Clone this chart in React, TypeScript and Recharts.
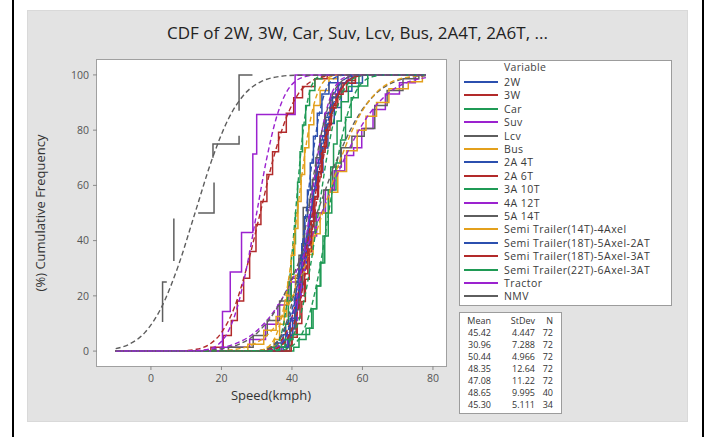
import React from 'react';
import { LineChart, Line, XAxis, YAxis } from 'recharts';

// ---------- data ----------
const variables = [
  '2W', '3W', 'Car', 'Suv', 'Lcv', 'Bus', '2A 4T', '2A 6T', '3A 10T', '4A 12T', '5A 14T',
  'Semi Trailer(14T)-4Axel', 'Semi Trailer(18T)-5Axel-2AT', 'Semi Trailer(18T)-5Axel-3AT',
  'Semi Trailer(22T)-6Axel-3AT', 'Tractor', 'NMV',
];

const statMean = ['45.42', '30.96', '50.44', '48.35', '47.08', '48.65', '45.30'];
const statStDev = ['4.447', '7.288', '4.966', '12.64', '11.22', '9.995', '5.111'];
const statN = ['72', '72', '72', '72', '72', '40', '34'];

const xTicks = [0, 20, 40, 60, 80];
const yTicks = [0, 20, 40, 60, 80, 100];

// empirical (step) CDFs: [speed, cumulative %]
const step2W = [[-10,0],[36.5,1.4],[38.2,4.2],[39.6,8.3],[40.8,15.3],[41.9,22.2],[43.0,31.9],[44.1,40.3],[45.0,48.6],[45.9,58.3],[47.0,68.1],[48.2,76.4],[49.5,84.7],[51.0,91.7],[53.2,97.2],[56.0,100],[78,100]];
const step3W = [[-10,0],[17.0,1.4],[20.5,5.6],[22.8,11.1],[24.5,18.1],[26.3,26.4],[28.0,36.1],[29.8,45.8],[31.2,54.2],[32.9,63.9],[34.5,72.2],[36.2,79.2],[38.4,86.1],[40.5,91.7],[43.0,95.8],[46.5,98.6],[50.0,100],[78,100]];
const stepCar = [[-10,0],[40.5,1.4],[42.0,4.2],[44.0,8.3],[45.6,15.3],[47.0,23.6],[48.2,31.9],[49.3,41.7],[50.3,50.0],[51.3,58.3],[52.5,68.1],[53.8,76.4],[55.2,84.7],[56.8,91.7],[58.8,96],[61.5,100],[78,100]];
const stepSuv = [[-10,0],[20.0,1.4],[28.0,4.2],[32.5,9.7],[36.0,16.7],[39.0,25.0],[42.0,33.3],[44.5,41.7],[47.0,50.0],[49.5,58.3],[52.0,65.3],[55.0,70.8],[57.5,73.6],[59.8,80.6],[63.0,87.5],[66.5,93.1],[70.5,97.2],[75.0,100],[78,100]];
const stepLcv = [[-10,0],[22.0,1.4],[29.0,5.6],[33.0,11.1],[36.5,18.1],[39.5,26.4],[42.0,34.7],[44.5,43.1],[46.5,50.0],[49.0,58.3],[51.5,66.7],[54.0,73.6],[57.0,77.8],[60.5,80.6],[63.5,88.9],[67.0,94.4],[71.5,98.6],[76.0,100],[78,100]];
const stepBus = [[-10,0],[27.5,2.5],[32.0,7.5],[35.5,12.5],[38.5,20.0],[41.0,27.5],[43.5,35.0],[46.0,42.5],[48.0,50.0],[50.5,57.5],[53.0,65.0],[55.5,72.5],[58.5,80.0],[61.0,85.0],[64.0,90.0],[67.5,95.0],[73.0,97.5],[77.0,100],[78,100]];
const step2A4T = [[-10,0],[35.0,2.9],[37.5,5.9],[39.5,11.8],[41.0,20.6],[42.5,29.4],[43.8,38.2],[45.0,47.1],[46.2,55.9],[47.5,64.7],[48.8,73.5],[50.2,82.4],[52.0,88.2],[54.0,94.1],[57.0,97.1],[60.0,100],[78,100]];
const step2A6T = [[-10,0],[38.5,2],[40.0,6],[41.2,12],[42.3,20],[43.5,28],[44.5,37],[45.5,47],[46.5,56],[47.5,65],[48.6,74],[49.8,82],[51.2,89],[53.0,94],[55.5,98],[58.0,100],[78,100]];
const step3A10T = [[-10,0],[35.0,1.4],[37.0,4.2],[38.2,9.7],[39.0,18.1],[39.8,27.8],[40.5,38.9],[41.0,50.0],[41.6,61.1],[42.3,72.2],[43.0,81.9],[43.9,88.9],[45.0,94.4],[46.5,98.6],[48.5,100],[78,100]];
const step4A12T = [[-10,0],[37.0,1.4],[38.8,5.6],[40.2,11.1],[41.5,19.4],[42.6,29.2],[43.7,38.9],[44.8,48.6],[45.8,58.3],[46.8,68.1],[48.0,77.8],[49.3,86.1],[51.0,93.1],[53.0,97.2],[56.0,100],[78,100]];
const step5A14T = [[-10,0],[39.4,8],[41.0,15],[42.0,25],[43.0,38],[43.2,52],[45.0,55],[45.8,62],[46.8,70],[48.0,78],[49.5,86],[51.5,92],[54.0,97],[57.0,100],[78,100]];
const stepSemi14 = [[-10,0],[33.0,1.4],[35.0,4.2],[36.5,9.7],[37.8,16.7],[38.8,25.0],[39.8,34.7],[40.8,44.4],[41.7,54.2],[42.6,63.9],[43.6,73.6],[44.8,82.0],[46.2,88.9],[48.0,94.4],[50.5,98.6],[53.0,100],[78,100]];
const stepSemi18a = [[-10,0],[37.5,1.4],[39.0,5.6],[40.2,11.1],[41.2,19.4],[42.0,29.2],[42.8,38.9],[43.6,48.6],[44.4,58.3],[45.2,68.1],[46.1,77.8],[47.2,86.1],[48.5,93.1],[50.5,97.2],[53.0,100],[78,100]];
const stepSemi18b = [[-10,0],[39.8,2],[40.0,5],[41.5,10],[42.8,18],[43.8,26],[44.9,36],[45.6,45],[46.1,55],[47.3,63],[48.3,72],[49.4,80],[50.8,88],[52.5,93],[54.5,97],[58.0,100],[78,100]];
const stepSemi22 = [[-10,0],[34.0,1.4],[38.0,4.2],[40.3,6],[45.0,8.3],[46.0,15.3],[47.0,23.6],[48.0,32],[48.8,41.7],[49.6,50],[50.3,58.3],[51.0,66.7],[51.8,75],[52.8,83.3],[54.0,90.3],[56.0,95.8],[59.0,100],[78,100]];
const stepTractor = [[-10,0],[20.3,14.3],[22.5,28.6],[25.7,42.9],[28.9,71.4],[30.0,85.7],[40.9,100],[78,100]];
const stepNMV = [[3.3,10.5],[3.3,25],[4.5,25],[5,null],[6.5,32.6],[6.5,48],[10,null],[13.4,50],[17.9,50],[17.9,61],[17.7,null],[17.6,70],[17.6,75],[25,75],[25,78],[25,null],[25,87],[25,100],[28.8,100]];

// fitted normal CDFs: [speed, cumulative %]
const fit2W = [[-10,0],[32.1,0.13],[34.3,0.62],[36.5,2.28],[38.7,6.68],[41.0,15.87],[43.2,30.85],[45.4,50],[47.6,69.15],[49.9,84.13],[52.1,93.32],[54.3,97.72],[56.5,99.38],[58.8,99.87],[78,100]];
const fit3W = [[-10,0],[9.1,0.13],[12.7,0.62],[16.4,2.28],[20.0,6.68],[23.7,15.87],[27.3,30.85],[31.0,50],[34.6,69.15],[38.3,84.13],[41.9,93.32],[45.5,97.72],[49.2,99.38],[52.8,99.87],[78,100]];
const fitCar = [[-10,0],[35.5,0.13],[38.0,0.62],[40.5,2.28],[43.0,6.68],[45.5,15.87],[48.0,30.85],[50.4,50],[52.9,69.15],[55.4,84.13],[57.9,93.32],[60.4,97.72],[62.9,99.38],[65.3,99.87],[78,100]];
const fitSuv = [[-10,0],[10.4,0.13],[16.8,0.62],[23.1,2.28],[29.4,6.68],[35.7,15.87],[42.0,30.85],[48.4,50],[54.7,69.15],[61.0,84.13],[67.3,93.32],[73.6,97.72],[78,99.0]];
const fitLcv = [[-10,0],[13.4,0.13],[19.0,0.62],[24.6,2.28],[30.2,6.68],[35.9,15.87],[41.5,30.85],[47.1,50],[52.7,69.15],[58.3,84.13],[63.9,93.32],[69.5,97.72],[75.1,99.38],[78,99.7]];
const fitBus = [[-10,0],[18.7,0.13],[23.7,0.62],[28.7,2.28],[33.7,6.68],[38.7,15.87],[43.7,30.85],[48.7,50],[53.7,69.15],[58.7,84.13],[63.7,93.32],[68.7,97.72],[73.7,99.38],[78,99.85]];
const fit2A4T = [[-10,0],[30.0,0.13],[32.5,0.62],[35.1,2.28],[37.6,6.68],[40.2,15.87],[42.7,30.85],[45.3,50],[47.9,69.15],[50.4,84.13],[53.0,93.32],[55.5,97.72],[58.1,99.38],[60.6,99.87],[78,100]];
const fit2A6T = [[-10,0],[30.8,0.13],[33.3,0.62],[35.8,2.28],[38.3,6.68],[40.8,15.87],[43.3,30.85],[45.8,50],[48.3,69.15],[50.8,84.13],[53.3,93.32],[55.8,97.72],[58.3,99.38],[60.8,99.87],[78,100]];
const fit3A10T = [[-10,0],[33.2,0.13],[34.5,0.62],[35.8,2.28],[37.1,6.68],[38.4,15.87],[39.7,30.85],[41.0,50],[42.3,69.15],[43.6,84.13],[44.9,93.32],[46.2,97.72],[47.5,99.38],[48.8,99.87],[78,100]];
const fit4A12T = [[-10,0],[32.4,0.13],[34.5,0.62],[36.6,2.28],[38.7,6.68],[40.8,15.87],[42.9,30.85],[45.0,50],[47.1,69.15],[49.2,84.13],[51.3,93.32],[53.4,97.72],[55.5,99.38],[57.6,99.87],[78,100]];
const fit5A14T = [[-10,0],[30.1,0.13],[32.5,0.62],[34.9,2.28],[37.3,6.68],[39.7,15.87],[42.1,30.85],[44.5,50],[46.9,69.15],[49.3,84.13],[51.7,93.32],[54.1,97.72],[56.5,99.38],[58.9,99.87],[78,100]];
const fitSemi14 = [[-10,0],[30.1,0.13],[32.0,0.62],[33.9,2.28],[35.8,6.68],[37.7,15.87],[39.6,30.85],[41.5,50],[43.4,69.15],[45.3,84.13],[47.2,93.32],[49.1,97.72],[51.0,99.38],[52.9,99.87],[78,100]];
const fitSemi18a = [[-10,0],[33.5,0.13],[35.25,0.62],[37.0,2.28],[38.75,6.68],[40.5,15.87],[42.25,30.85],[44.0,50],[45.75,69.15],[47.5,84.13],[49.25,93.32],[51.0,97.72],[52.75,99.38],[54.5,99.87],[78,100]];
const fitSemi18b = [[-10,0],[32.7,0.13],[35.0,0.62],[37.3,2.28],[39.6,6.68],[41.9,15.87],[44.2,30.85],[46.5,50],[48.8,69.15],[51.1,84.13],[53.4,93.32],[55.7,97.72],[58.0,99.38],[60.3,99.87],[78,100]];
const fitSemi22 = [[-10,0],[34.0,0.13],[36.25,0.62],[38.5,2.28],[40.75,6.68],[43.0,15.87],[45.25,30.85],[47.5,50],[49.75,69.15],[52.0,84.13],[54.25,93.32],[56.5,97.72],[58.75,99.38],[61.0,99.87],[78,100]];
const fitTractor = [[-10,0],[13.5,0.13],[16.25,0.62],[19.0,2.28],[21.75,6.68],[24.5,15.87],[27.25,30.85],[30.0,50],[32.75,69.15],[35.5,84.13],[38.25,93.32],[41.0,97.72],[43.75,99.38],[46.5,99.87],[78,100]];
const fitNMV = [[-10,0.9],[-6.5,2.28],[-1.75,6.68],[3.0,15.87],[7.75,30.85],[12.5,50],[17.25,69.15],[22.0,84.13],[26.75,93.32],[31.5,97.72],[36.25,99.38],[41.0,99.87],[78,100]];

const steps = [step2W, step3W, stepCar, stepSuv, stepLcv, stepBus, step2A4T, step2A6T, step3A10T, step4A12T, step5A14T, stepSemi14, stepSemi18a, stepSemi18b, stepSemi22, stepTractor, stepNMV];
const fits = [fit2W, fit3W, fitCar, fitSuv, fitLcv, fitBus, fit2A4T, fit2A6T, fit3A10T, fit4A12T, fit5A14T, fitSemi14, fitSemi18a, fitSemi18b, fitSemi22, fitTractor, fitNMV];

// ---------- style ----------
const palette = ['#2b4fae', '#b22a2a', '#1f9a55', '#9b22cf', '#5e5e5e', '#e3a01c'];
const FONT = '"Open Sans", "DejaVu Sans", sans-serif';

const toPts = (arr: any[][]) => arr.map(([x, y]) => ({ x, y }));

export default function App() {
  const tickStyle = { fontSize: 10.5, fill: '#555', fontFamily: FONT };
  const statRows = [['Mean', 'StDev', 'N']].concat(statMean.map((m, i) => [m, statStDev[i], statN[i]]));
  const statY = [321, 333, 345, 357, 369, 381, 393, 405];
  return (
    <div style={{ position: 'absolute', left: 0, top: 0, width: 713, height: 437, background: '#fff', fontFamily: FONT, overflow: 'hidden' }}>
      <div style={{ position: 'absolute', left: 12, top: 0, width: 2, height: 437, background: '#000' }} />
      <div style={{ position: 'absolute', left: 702, top: 0, width: 2, height: 437, background: '#000' }} />
      <div style={{ position: 'absolute', left: 27, top: 10, width: 661, height: 412, background: '#e3e3e3', boxSizing: 'border-box', border: '1px solid #d9d9d9' }} />
      <div style={{ position: 'absolute', left: 96, top: 59, width: 351, height: 308, background: '#fff', boxSizing: 'border-box', border: '1px solid #a0a0a0' }} />

      <div style={{ position: 'absolute', left: 27, top: 21, width: 661, textAlign: 'center', fontSize: 17, color: '#222', lineHeight: '24px', whiteSpace: 'nowrap' }}>
        CDF of 2W, 3W, Car, Suv, Lcv, Bus, 2A4T, 2A6T, ...
      </div>
      <div style={{ position: 'absolute', left: 171, top: 386, width: 200, textAlign: 'center', fontSize: 13, color: '#333', lineHeight: '18px' }}>
        Speed(kmph)
      </div>
      <div style={{ position: 'absolute', left: 40 - 100, top: 213 - 9, width: 200, textAlign: 'center', fontSize: 13, color: '#333', lineHeight: '18px', transform: 'rotate(-90deg)' }}>
        (%) Cumulative Frequency
      </div>

      {/* legend */}
      <div style={{ position: 'absolute', left: 459, top: 60, width: 213, height: 246, background: '#fff', boxSizing: 'border-box', border: '1px solid #9c9c9c' }} />
      <div style={{ position: 'absolute', left: 504, top: 61, fontSize: 10.5, color: '#444', lineHeight: '12px', letterSpacing: 0.3 }}>Variable</div>
      {variables.map((v, i) => {
        const cy = 82 + i * 13.4;
        return (
          <React.Fragment key={v}>
            <div style={{ position: 'absolute', left: 464, top: cy - 1, width: 34, height: 2, background: palette[i % 6] }} />
            <div style={{ position: 'absolute', left: 504, top: cy - 6, fontSize: 10.5, color: '#3a3a3a', lineHeight: '12px', whiteSpace: 'nowrap', letterSpacing: 0.45 }}>{v}</div>
          </React.Fragment>
        );
      })}

      {/* stats table */}
      <div style={{ position: 'absolute', left: 459, top: 312, width: 103, height: 102, background: '#fff', boxSizing: 'border-box', border: '1px solid #9c9c9c' }} />
      {statRows.map((row, i) => {
        const cy = statY[i];
        const s = { position: 'absolute' as const, top: cy - 5, fontSize: 9, color: '#333', lineHeight: '10px', textAlign: 'right' as const };
        return (
          <React.Fragment key={i}>
            <div style={{ ...s, left: 450, width: 41 }}>{row[0]}</div>
            <div style={{ ...s, left: 490, width: 45 }}>{row[1]}</div>
            <div style={{ ...s, left: 535, width: 18 }}>{row[2]}</div>
          </React.Fragment>
        );
      })}

      <div style={{ position: 'absolute', left: 0, top: 0 }}>
        <LineChart width={713} height={437} margin={{ top: 60, right: 267, bottom: 41, left: 57 }}>
          <XAxis type="number" dataKey="x" domain={[-15.3, 83.7]} ticks={xTicks} allowDataOverflow axisLine={false}
            tickLine={{ stroke: '#8a8a8a' }} tickSize={4} tickMargin={5} height={30} tick={tickStyle} interval={0} />
          <YAxis type="number" domain={[-5.4, 105.4]} ticks={yTicks} allowDataOverflow axisLine={false}
            tickLine={{ stroke: '#8a8a8a' }} tickSize={4} tickMargin={4} width={40} tick={tickStyle} interval={0} />
          {steps.map((s, i) => (
            <Line key={'s' + i} data={toPts(s)} dataKey="y" type={i === 16 ? 'linear' : 'stepAfter'} stroke={palette[i % 6]}
              strokeWidth={1.5} dot={false} isAnimationActive={false} connectNulls={false} />
          ))}
          {fits.map((f, i) => (
            <Line key={'f' + i} data={toPts(f)} dataKey="y" type="monotone" stroke={palette[i % 6]}
              strokeWidth={1.4} strokeDasharray="5 3" dot={false} isAnimationActive={false} />
          ))}
        </LineChart>
      </div>
    </div>
  );
}
